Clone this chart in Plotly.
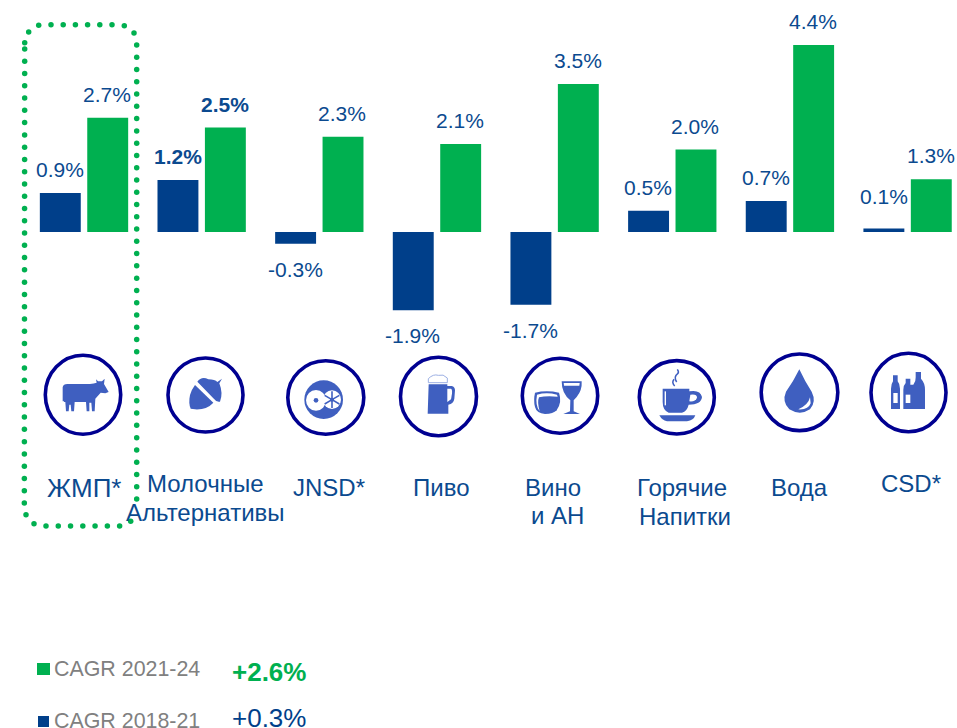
import re
import plotly.graph_objects as go

# ---- data ----
categories = ["ЖМП*", "Молочные Альтернативы", "JNSD*", "Пиво", "Вино и АН", "Горячие Напитки", "Вода", "CSD*"]
category_lines = [["ЖМП*"], ["Молочные", "Альтернативы"], ["JNSD*"], ["Пиво"], ["Вино", "и АН"],
                  ["Горячие", "Напитки"], ["Вода"], ["CSD*"]]
cagr_2018_21 = [0.92, 1.23, -0.28, -1.85, -1.72, 0.5, 0.73, 0.08]
cagr_2021_24 = [2.7, 2.47, 2.25, 2.08, 3.5, 1.95, 4.42, 1.25]
labels_2018_21 = ["0.9%", "1.2%", "-0.3%", "-1.9%", "-1.7%", "0.5%", "0.7%", "0.1%"]
labels_2021_24 = ["2.7%", "2.5%", "2.3%", "2.1%", "3.5%", "2.0%", "4.4%", "1.3%"]
legend_names = ["CAGR 2021-24", "CAGR 2018-21"]
legend_totals = ["+2.6%", "+0.3%"]

# ---- styles ----
BLUE = "#003F8A"
GREEN = "#00B050"
TEXT = "#0B4A8F"
GREY = "#808080"
RING = "#000091"
ICON = "#3F5FC0"
FONT = "Liberation Sans"

fig = go.Figure()
fig.add_bar(x=categories, y=cagr_2018_21, marker_color=BLUE, marker_line_width=0, name=legend_names[1], hoverinfo="skip")
fig.add_bar(x=categories, y=cagr_2021_24, marker_color=GREEN, marker_line_width=0, name=legend_names[0], hoverinfo="skip")

ann = []
shapes = []

# value labels
bold_labels = {(0, 1), (1, 1)}
for s, (vals, labs, xs) in enumerate([(cagr_2018_21, labels_2018_21, -24), (cagr_2021_24, labels_2021_24, 23)]):
    for i, (v, lab) in enumerate(zip(vals, labs)):
        shift = 23.5 if v >= 0 else -25.5
        if lab == "0.1%":
            shift = 32
        txt = f"<b>{lab}</b>" if (s, i) in bold_labels else lab
        ann.append(dict(x=categories[i], y=v, xref="x", yref="y", xshift=xs, yshift=shift, text=txt,
                        showarrow=False, xanchor="center", yanchor="middle",
                        font=dict(family=FONT, size=21, color=TEXT)))

# category captions (pixel axes)
caption_pos = [[(84, 488)], [(205, 483), (205, 512)], [(329, 487)], [(441, 487)], [(553, 487), (557, 515)],
               [(682, 487), (685, 516)], [(799, 487)], [(911, 483)]]
for i, (lines, pos) in enumerate(zip(category_lines, caption_pos)):
    for t, (px, py) in zip(lines, pos):
        ann.append(dict(x=px, y=py, xref="x2", yref="y2", text=t, showarrow=False, xanchor="center", yanchor="middle",
                        font=dict(family=FONT, size=26 if i == 0 else 24, color=TEXT)))

# legend
for name, total, ly, ty, col, bold, rect in [
    (legend_names[0], legend_totals[0], 669, 672, GREEN, True, (37, 663, 50, 675)),
    (legend_names[1], legend_totals[1], 721, 718, BLUE, False, (38, 716, 49, 727)),
]:
    shapes.append(dict(type="rect", xref="x2", yref="y2", x0=rect[0], y0=rect[1], x1=rect[2], y1=rect[3],
                       fillcolor=col, line_width=0))
    ann.append(dict(x=53, y=ly, xref="x2", yref="y2", text=name, showarrow=False, xanchor="left", yanchor="middle",
                    borderpad=0, font=dict(family=FONT, size=21.4, color=GREY)))
    ann.append(dict(x=231, y=ty, xref="x2", yref="y2", text=f"<b>{total}</b>" if bold else total, showarrow=False,
                    xanchor="left", yanchor="middle", borderpad=0, font=dict(family=FONT, size=26, color=col)))

# rings
rings = [(83, 394.7, 37.7, 39.5), (205.5, 395, 37.5, 37), (325.8, 397.5, 38, 36.7), (438.5, 396.5, 38, 39.3),
         (560, 395.7, 37.7, 37.5), (676.8, 397.3, 37.5, 36.7), (799.5, 392.3, 38.3, 38.3), (908.5, 392.5, 37.5, 39.2)]
for cx, cy, rx, ry in rings:
    shapes.append(dict(type="circle", xref="x2", yref="y2", x0=cx - rx, x1=cx + rx, y0=cy - ry, y1=cy + ry,
                       line=dict(color=RING, width=3.6), fillcolor="rgba(0,0,0,0)"))


def icon(path, ox, oy, fill=ICON, line=None, width=0):
    """Icon outlines are given in 3x crop coordinates around an origin (ox, oy)."""
    parts = re.split(r"([MLQCZ])", path)
    out = []
    for p in parts:
        nums = re.findall(r"-?\d+\.?\d*", p)
        if nums:
            conv = [f"{ox + float(n) / 3:.2f}" if k % 2 == 0 else f"{oy + float(n) / 3:.2f}" for k, n in enumerate(nums)]
            out.append(" ".join(conv))
        else:
            out.append(p)
    shapes.append(dict(type="path", xref="x2", yref="y2", path=" ".join(x for x in out if x.strip()),
                       fillcolor=fill, line=dict(color=line or "rgba(0,0,0,0)", width=width)))


def oval(cx, cy, rx, ry, ox, oy, fill=ICON, line=None, width=0):
    shapes.append(dict(type="circle", xref="x2", yref="y2", x0=ox + (cx - rx) / 3, x1=ox + (cx + rx) / 3,
                       y0=oy + (cy - ry) / 3, y1=oy + (cy + ry) / 3, fillcolor=fill,
                       line=dict(color=line or "rgba(0,0,0,0)", width=width)))


W = "#FFFFFF"
NONE = "rgba(0,0,0,0)"
# cow
icon("M68 112 Q70 102 82 102 L150 102 Q162 100 170 98 L168 88 L174 94 L186 94 L194 86 L192 102 L206 126 L196 130 "
     "L182 128 L166 146 L164 184 L156 184 L154 158 L148 158 L148 184 L140 184 L138 156 L104 156 L102 184 L94 184 "
     "L92 164 L88 164 L86 184 L78 184 L76 156 L72 156 L72 154 L68 154 Z", 40, 350)
# acorn
icon("M112 95 Q125 78 145 88 Q165 88 172 96 L186 86 L178 100 Q190 130 180 155 Q170 158 160 145 Z", 160, 350)
icon("M105 105 L160 158 Q140 180 105 178 L92 176 Q85 160 90 135 Q95 118 105 105 Z", 160, 350)
# fruit
oval(125, 143, 58, 58, 282, 352)
oval(102, 145, 30, 31, 282, 352, fill=W)
oval(102, 145, 7, 7, 282, 352)
oval(150, 143, 27, 28, 282, 352, fill=W)
for seg in ["M150 143 L150 118", "M150 143 L172 130", "M150 143 L172 156", "M150 143 L150 168",
            "M150 143 L128 156", "M150 143 L128 130"]:
    icon(seg, 282, 352, fill=NONE, line=ICON, width=1.6)
oval(150, 143, 6, 6, 282, 352, fill=ICON)
# beer
icon("M100 80 Q115 65 130 70 Q145 65 157 78 L157 92 L100 92 Z", 395, 352, fill=W, line="#9DB0E4", width=1)
icon("M101 97 L157 97 L157 102 L170 102 Q180 104 180 115 L178 140 Q176 155 160 158 L160 185 L98 185 Z", 395, 352)
icon("M157 110 L168 110 Q172 112 171 125 L168 142 L157 150 Z", 395, 352, fill=W)
# wine
icon("M60 122 Q95 114 132 122 Q142 150 125 175 Q115 186 90 186 Q65 184 60 165 Q55 145 60 122 Z", 515, 352)
icon("M66 128 Q95 120 126 128 L128 134 Q95 130 72 136 Q66 150 74 178 Q60 160 66 128 Z", 515, 352, fill=W)
icon("M140 88 L200 88 Q202 115 185 135 L176 145 L176 178 L195 186 L145 186 L165 178 L166 145 Q140 125 140 88 Z", 515, 352)
icon("M146 93 L194 93 L193 101 L147 101 Z", 515, 352, fill=W)
# cup
icon("M92 110 L172 110 L172 118 Q205 112 210 135 Q208 158 170 158 Q165 178 150 182 L110 182 Q92 175 92 150 Z", 632, 352)
icon("M175 128 Q195 125 195 137 Q190 150 172 148 Z", 632, 352, fill=W)
icon("M100 118 L100 160", 632, 352, fill=NONE, line=W, width=1.4)
icon("M82 190 L190 190 Q185 205 165 208 L105 208 Q90 205 82 190 Z", 632, 352)
icon("M128 102 Q118 92 126 82", 632, 352, fill=NONE, line=ICON, width=1.5)
icon("M134 90 Q124 75 137 65 Q142 60 136 52", 632, 352, fill=NONE, line=ICON, width=1.5)
# drop
icon("M958 88 Q975 125 995 155 Q1010 185 990 208 Q960 228 928 208 Q905 185 918 155 Q940 125 958 88 Z", 480, 340)
icon("M990 172 Q985 195 955 208 Q985 210 992 190 Z", 480, 340, fill=W)
# bottles
icon("M84 82 L98 82 L98 100 Q105 108 105 122 L105 183 L78 183 L78 122 Q78 108 84 100 Z", 865, 348)
icon("M85 135 L98 135 L98 165 L85 165 Z", 865, 348, fill=W)
icon("M122 92 L136 92 L136 110 L145 110 Q153 100 152 88 L152 72 L168 72 L168 92 Q180 105 180 125 L180 183 "
     "L115 183 L115 125 Q115 112 122 105 Z", 865, 348)
icon("M122 140 L136 140 L136 165 L122 165 Z", 865, 348, fill=W)

# dotted frame (decoration)
dots_x = [24.7, 28.7, 38.7] + [51 + 12.2 * k for k in range(6)] + [124.3, 134]
dots_y = [42.7, 32, 25.3] + [24.7] * 6 + [25.7, 33]
for k in range(38):
    dots_x.append(24.7 - 0.01 * k)
    dots_y.append(49 + 12.27 * k)
dots_x += [26, 34] + [46 + 12.27 * k for k in range(7)] + [130.7]
dots_y += [514.7, 523.7] + [526] * 7 + [521.3]
for k in range(38):
    dots_x.append(136.7)
    dots_y.append(45 + 12.27 * k)
fig.add_scatter(x=dots_x, y=dots_y, xaxis="x2", yaxis="y2", mode="markers",
                marker=dict(color=GREEN, size=5.5, line_width=0), hoverinfo="skip", showlegend=False)

fig.update_layout(
    width=957, height=728, margin=dict(l=0, r=0, t=0, b=0),
    paper_bgcolor="white", plot_bgcolor="white", showlegend=False,
    barmode="group", bargap=0.194, bargroupgap=0.137,
    xaxis=dict(type="category", categoryorder="array", categoryarray=categories, range=[-0.714, 7.42],
               visible=False, fixedrange=True),
    yaxis=dict(range=[-496 / 42.3, 232 / 42.3], autorange=False, visible=False, fixedrange=True, zeroline=False),
    xaxis2=dict(overlaying="x", range=[0, 957], visible=False, fixedrange=True),
    yaxis2=dict(overlaying="y", range=[728, 0], visible=False, fixedrange=True),
    annotations=ann, shapes=shapes,
)
fig.write_html("out.html", config=dict(displayModeBar=False),
               post_script="document.body.style.margin='0';document.body.style.overflow='hidden';")
